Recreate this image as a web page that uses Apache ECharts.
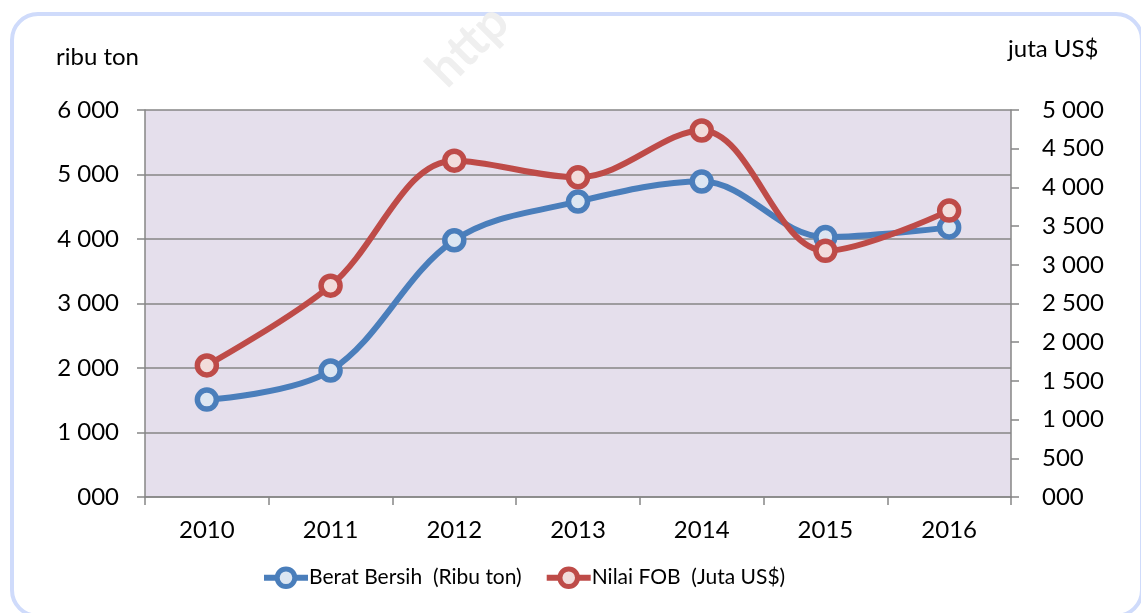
<!DOCTYPE html>
<html>
<head>
<meta charset="utf-8">
<script src="https://cdn.jsdelivr.net/npm/echarts@6/dist/echarts.min.js"></script>
<style>
  html, body { margin: 0; padding: 0; background: #fff; overflow: hidden; }
  .frame {
    position: absolute; left: 10px; top: 12px; width: 1126px; height: 598px;
    border: 4px solid #cfdbfb; border-radius: 28px;
  }
  #chart { position: absolute; left: 0; top: 0; width: 1141px; height: 613px; }
</style>
</head>
<body>
<div class="frame"></div>
<div id="chart"></div>
<script>
// data
const years = ['2010', '2011', '2012', '2013', '2014', '2015', '2016'];
const beratBersih = [1510, 1960, 3980, 4580, 4890, 4030, 4180];   // ribu ton
const nilaiFob = [1700, 2730, 4345, 4130, 4735, 3180, 3700];       // juta US$

const fontFam = 'Lato, "Open Sans", sans-serif';

// 6000 -> "6 000", 0 -> "000"
function fmt(v) {
  if (v === 0) return '000';
  return String(v).replace(/\B(?=(\d{3})+(?!\d))/g, ' ');
}

let myChart = echarts.init(document.getElementById('chart'));

myChart.setOption({
  animation: false,
  textStyle: { fontFamily: fontFam, color: '#000' },
  graphic: [
    {
      type: 'text', left: 418, top: -4, rotation: Math.PI / 4, z: -1,
      style: { text: 'http', fontSize: 50, fontWeight: 'bold', fill: '#efefef', fontFamily: fontFam }
    },
    {
      type: 'text', left: 56, top: 45,
      style: { text: 'ribu ton', fontSize: 24, fill: '#000', fontFamily: fontFam }
    },
    {
      type: 'text', left: 1008, top: 37,
      style: { text: 'juta US$', fontSize: 24, fill: '#000', fontFamily: fontFam }
    }
  ],
  grid: {
    left: 145, right: 130, top: 110, bottom: 116,
    show: true, backgroundColor: '#e5dfec', borderWidth: 0
  },
  legend: {
    bottom: 19,
    left: 256,
    itemWidth: 44,
    itemHeight: 22,
    itemGap: 22,
    textStyle: { fontSize: 21, fontFamily: fontFam, color: '#000', padding: [0, 0, 0, -4] },
    lineStyle: { width: 6 },
    itemStyle: { borderWidth: 5 },
    data: ['Berat Bersih  (Ribu ton)', 'Nilai FOB  (Juta US$)']
  },
  xAxis: {
    type: 'category',
    data: years,
    boundaryGap: true,
    axisLine: { lineStyle: { color: '#868686', width: 1.5 } },
    axisTick: { show: true, length: 8, lineStyle: { color: '#868686', width: 1.5 } },
    axisLabel: { fontSize: 24, color: '#000', margin: 21 }
  },
  yAxis: [
    {
      type: 'value', min: 0, max: 6000, interval: 1000, position: 'left',
      axisLine: { show: true, lineStyle: { color: '#868686', width: 1.5 } },
      axisTick: { show: true, length: 8, lineStyle: { color: '#868686', width: 1.5 } },
      splitLine: { show: true, lineStyle: { color: '#868686', width: 1.5 } },
      axisLabel: { fontSize: 24, color: '#000', margin: 26, formatter: fmt }
    },
    {
      type: 'value', min: 0, max: 5000, interval: 500, position: 'right',
      axisLine: { show: true, lineStyle: { color: '#868686', width: 1.5 } },
      axisTick: { show: true, length: 8, lineStyle: { color: '#868686', width: 1.5 } },
      splitLine: { show: false },
      axisLabel: { fontSize: 24, color: '#000', margin: 31, formatter: fmt }
    }
  ],
  series: [
    {
      name: 'Berat Bersih  (Ribu ton)',
      type: 'line',
      yAxisIndex: 0,
      smooth: 0.35,
      data: beratBersih,
      symbol: 'circle',
      symbolSize: 19,
      lineStyle: { color: '#4a7ebb', width: 6 },
      itemStyle: { color: '#dce6f2', borderColor: '#4a7ebb', borderWidth: 5.5 }
    },
    {
      name: 'Nilai FOB  (Juta US$)',
      type: 'line',
      yAxisIndex: 1,
      smooth: 0.35,
      data: nilaiFob,
      symbol: 'circle',
      symbolSize: 19,
      lineStyle: { color: '#be4b48', width: 6 },
      itemStyle: { color: '#f2dcdb', borderColor: '#be4b48', borderWidth: 5.5 }
    }
  ]
});
</script>
</body>
</html>
